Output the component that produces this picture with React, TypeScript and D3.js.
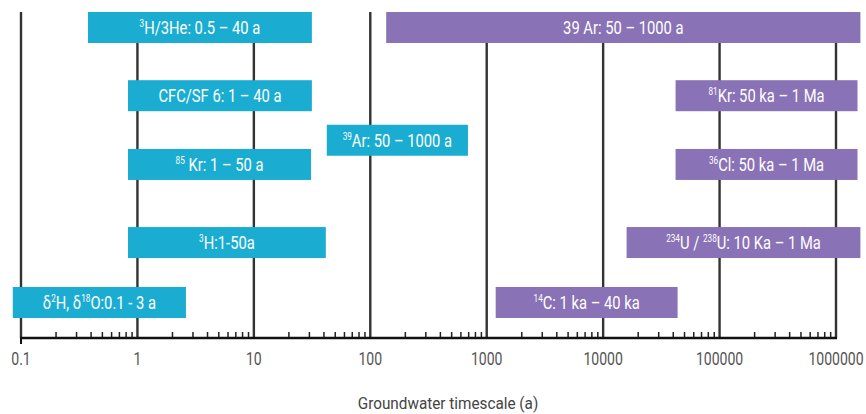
import React from "react";
import * as d3 from "d3";

// ---- data ----
// label parts: [text, isSuperscript]
const labels: [string, boolean][][] = [
  [["3", true], ["H/3He: 0.5 – 40 a", false]],
  [["CFC/SF 6: 1 – 40 a", false]],
  [["85", true], [" Kr: 1 – 50 a", false]],
  [["3", true], ["H:1-50a", false]],
  [["δ", false], ["2", true], ["H, δ", false], ["18", true], ["O:0.1 - 3 a", false]],
  [["39", true], ["Ar: 50 – 1000 a", false]],
  [["39 Ar: 50 – 1000 a", false]],
  [["81", true], ["Kr: 50 ka – 1 Ma", false]],
  [["36", true], ["Cl: 50 ka – 1 Ma", false]],
  [["234", true], ["U / ", false], ["238", true], ["U: 10 Ka – 1 Ma", false]],
  [["14", true], ["C: 1 ka – 40 ka", false]],
];
const barStart = [0.376, 0.83, 0.83, 0.83, 0.085, 42.3, 137, 41900, 41900, 15900, 1194];
const barEnd = [31.5, 31.5, 31, 41.5, 2.61, 690, 1620000, 1530000, 1530000, 1620000, 43600];
const lanes = [0, 1.24, 2.49, 3.91, 5, 2.05, 0, 1.24, 2.49, 3.91, 5];
const groups = ["young", "young", "young", "young", "young", "young", "old", "old", "old", "old", "old"];
const tickValues = [0.1, 1, 10, 100, 1000, 10000, 100000, 1000000];
const tickLabels = ["0.1", "1", "10", "100", "1000", "10000", "100000", "1000000"];
const axisTitle = "Groundwater timescale (a)";

const W = 866;
const H = 414;
const FONT = "Roboto, 'Liberation Sans', sans-serif";

export default function App() {
  const x = d3.scaleLog().domain([0.1, 1000000]).range([21, 836]);
  const y = d3.scaleLinear().domain([0, 5]).range([12, 287]);
  const color = d3.scaleOrdinal<string, string>().domain(["young", "old"]).range(["#1AADD1", "#8A72B6"]);
  const barH = 31;
  const axisY = 338;
  const gridTop = 12;

  const minor: number[] = [];
  for (let i = 0; i < tickValues.length - 1; i++) {
    for (let k = 2; k <= 9; k++) minor.push(tickValues[i] * k);
  }

  return (
    <svg
      width={W}
      height={H}
      style={{ position: "absolute", left: 0, top: 0, background: "#fff" }}
      fontFamily={FONT}
    >
      {/* major gridlines */}
      {tickValues.map((v, i) => (
        <line key={"g" + i} x1={x(v)} x2={x(v)} y1={gridTop} y2={axisY} stroke="#333" strokeWidth={2.4} />
      ))}
      {/* minor ticks */}
      {minor.map((v, i) => (
        <line key={"m" + i} x1={x(v)} x2={x(v)} y1={axisY - 6} y2={axisY} stroke="#222" strokeWidth={1.5} />
      ))}
      {/* axis line */}
      <line x1={x(0.1) - 1} x2={x(1000000) + 1} y1={axisY} y2={axisY} stroke="#111" strokeWidth={2.6} />
      <line x1={x(0.1)} x2={x(0.1)} y1={axisY} y2={axisY + 6} stroke="#111" strokeWidth={2} />
      {/* tick labels */}
      {tickValues.map((v, i) => (
        <g key={"t" + i} transform={`translate(${x(v)},365) scale(0.78,1)`}>
          <text x={0} y={0} textAnchor="middle" fontSize={18} fill="#555">
            {tickLabels[i]}
          </text>
        </g>
      ))}
      <g transform="translate(448,409) scale(0.9,1)">
        <text x={0} y={0} textAnchor="middle" fontSize={17} fill="#444">
          {axisTitle}
        </text>
      </g>
      {/* bars */}
      {labels.map((parts, i) => {
        const x0 = x(barStart[i]);
        const x1 = x(barEnd[i]);
        const top = y(lanes[i]);
        return (
          <g key={"b" + i}>
            <rect x={x0} y={top} width={x1 - x0} height={barH} fill={color(groups[i])} />
            <g transform={`translate(${(x0 + x1) / 2},${top + barH / 2 + 6.5}) scale(0.82,1)`}>
              <text x={0} y={0} textAnchor="middle" fontSize={18} fill="#fff">
                {parts.map((p, j) =>
                  p[1] ? (
                    <tspan key={j} fontSize={10} dy={-7}>
                      {p[0]}
                    </tspan>
                  ) : (
                    <tspan key={j} dy={j > 0 && parts[j - 1][1] ? 7 : 0}>
                      {p[0]}
                    </tspan>
                  )
                )}
              </text>
            </g>
          </g>
        );
      })}
    </svg>
  );
}
